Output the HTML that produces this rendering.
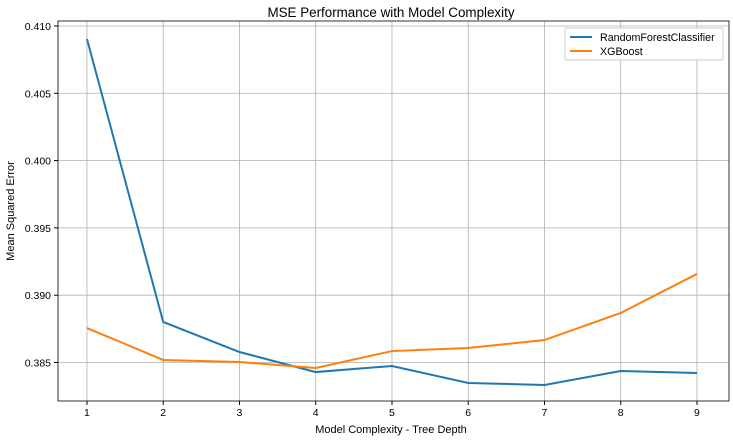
<!DOCTYPE html>
<html><head><meta charset="utf-8"><style>
body{margin:0;background:#fff;font-family:"Liberation Sans","DejaVu Sans",sans-serif}
svg text{font-family:"Liberation Sans","DejaVu Sans",sans-serif;font-size:10.5px;fill:#000}
</style></head><body>
<svg id="chart" width="733" height="441">
<text x="391" y="17" text-anchor="middle" style="font-size:13.4px">MSE Performance with Model Complexity</text>
<g id="grid"></g><g id="axes"></g><g id="lines"></g>
<text x="391" y="433" text-anchor="middle" style="font-size:11px">Model Complexity - Tree Depth</text>
<text transform="translate(14,211) rotate(-90)" text-anchor="middle" style="font-size:11px">Mean Squared Error</text>
<g>
<rect x="565" y="28" width="158" height="32" fill="#fff" stroke="#ccc" rx="2"/>
<line x1="570" y1="37" x2="592" y2="37" stroke="#1f77b4" stroke-width="2"/>
<text x="600" y="41" style="font-size:10.7px">RandomForestClassifier</text>
<line x1="570" y1="51" x2="592" y2="51" stroke="#ff7f0e" stroke-width="2"/>
<text x="600" y="55" style="font-size:10.7px">XGBoost</text>
</g>
</svg>
<script>
const depths=[1,2,3,4,5,6,7,8,9];
const rfValues=[0.40903,0.38801,0.38578,0.38429,0.38474,0.38348,0.38333,0.38437,0.38422];
const xgbValues=[0.38756,0.38519,0.38504,0.38459,0.38585,0.38608,0.38667,0.38868,0.39158];
const yTicks=[0.385,0.390,0.395,0.400,0.405,0.410];
const yTickLabels=["0.385","0.390","0.395","0.400","0.405","0.410"];
const L=58,R=729,T=21,B=401,yMin=0.38214,yMax=0.41037,xMin=0.62,xMax=9.42;
const x=v=>L+(v-xMin)/(xMax-xMin)*(R-L);
const y=v=>B-(v-yMin)/(yMax-yMin)*(B-T);
const NS="http://www.w3.org/2000/svg";
function mk(tag,attrs,parent){const e=document.createElementNS(NS,tag);for(const k in attrs)e.setAttribute(k,attrs[k]);parent.appendChild(e);return e;}
const grid=document.getElementById('grid'),axes=document.getElementById('axes'),lines=document.getElementById('lines');
depths.forEach(d=>{
 const gl=mk('line',{x1:x(d),x2:x(d),y1:T,y2:B,stroke:'#b0b0b0','stroke-width':0.8},grid);
 
 
 mk('line',{x1:x(d),x2:x(d),y1:B,y2:B+4,stroke:'#000'},axes);
 const t=mk('text',{x:x(d),y:B+15,'text-anchor':'middle'},axes);t.textContent=d;
 
 
});
yTicks.forEach((v,i)=>{
 const gl=mk('line',{x1:L,x2:R,y1:y(v),y2:y(v),stroke:'#b0b0b0','stroke-width':0.8},grid);
 
 
 mk('line',{x1:L-4,x2:L,y1:y(v),y2:y(v),stroke:'#000'},axes);
 const t=mk('text',{x:L-7,y:y(v)+4,'text-anchor':'end'},axes);t.textContent=yTickLabels[i];
 
 
});
const frame=mk('rect',{x:L,y:T,width:R-L,height:B-T,fill:'none',stroke:'#000','stroke-width':0.8},axes);


[[rfValues,'#1f77b4','rf-line'],[xgbValues,'#ff7f0e','xgb-line']].forEach(([vals,c,n])=>{
 const p=mk('polyline',{points:vals.map((v,i)=>x(depths[i])+','+y(v)).join(' '),fill:'none',stroke:c,'stroke-width':2},lines);
 
 
});
</script>
</body></html>
